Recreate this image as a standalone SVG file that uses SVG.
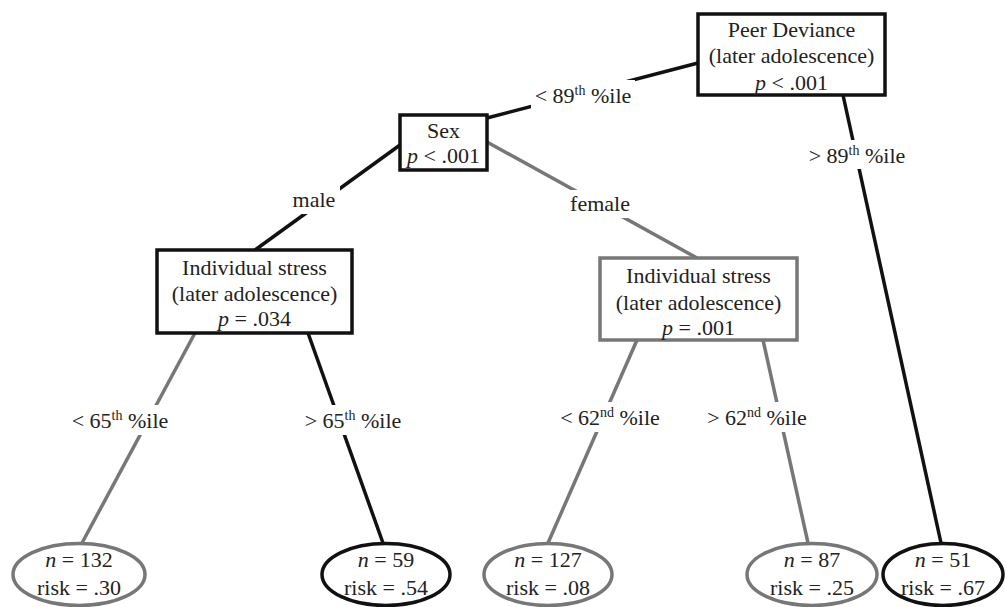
<svg xmlns="http://www.w3.org/2000/svg" width="1006" height="607" viewBox="0 0 1006 607">
<style>
text{font-family:"Liberation Serif","Times New Roman",serif;font-size:22px;fill:#222;text-anchor:middle}
.sup{font-size:14px}
.blk{stroke:#111;stroke-width:3.5;fill:none}
.gry{stroke:#777;stroke-width:3.5;fill:none}
.box{fill:#fff;stroke-width:3.5}
.lblbg{fill:#fff}
</style>
<rect width="1006" height="607" fill="#fff"/>
<g id="connectors">
<line class="blk" x1="698" y1="63" x2="487" y2="118"/>
<line class="blk" x1="843" y1="95" x2="941" y2="543"/>
<line class="blk" x1="400" y1="145" x2="255" y2="250"/>
<line class="gry" x1="487" y1="142" x2="697" y2="258"/>
<line class="gry" x1="195" y1="333" x2="82" y2="543"/>
<line class="blk" x1="308" y1="333" x2="383" y2="543"/>
<line class="gry" x1="637" y1="340" x2="548" y2="543"/>
<line class="gry" x1="763" y1="340" x2="808" y2="543"/>
<rect class="lblbg" x="531" y="80" width="104" height="29"/>
<text x="583" y="103">&lt; 89<tspan class="sup" dy="-8">th</tspan><tspan dy="8"> %ile</tspan></text>
<rect class="lblbg" x="805" y="140" width="104" height="29"/>
<text x="857" y="163">&gt; 89<tspan class="sup" dy="-8">th</tspan><tspan dy="8"> %ile</tspan></text>
<rect class="lblbg" x="288" y="186" width="52" height="28"/>
<text x="314" y="207">male</text>
<rect class="lblbg" x="565" y="190" width="70" height="28"/>
<text x="600" y="211">female</text>
<rect class="lblbg" x="68" y="405" width="104" height="30"/>
<text x="120" y="428">&lt; 65<tspan class="sup" dy="-8">th</tspan><tspan dy="8"> %ile</tspan></text>
<rect class="lblbg" x="301" y="405" width="104" height="30"/>
<text x="353" y="428">&gt; 65<tspan class="sup" dy="-8">th</tspan><tspan dy="8"> %ile</tspan></text>
<rect class="lblbg" x="556" y="402" width="108" height="30"/>
<text x="610" y="425">&lt; 62<tspan class="sup" dy="-8">nd</tspan><tspan dy="8"> %ile</tspan></text>
<rect class="lblbg" x="703" y="402" width="108" height="30"/>
<text x="757" y="425">&gt; 62<tspan class="sup" dy="-8">nd</tspan><tspan dy="8"> %ile</tspan></text>
</g>
<g id="peer">
<rect class="box" x="698" y="14" width="187" height="81" stroke="#111"/>
<text x="791.5" y="37">Peer Deviance</text>
<text x="791.5" y="63">(later adolescence)</text>
<text x="791.5" y="90"><tspan font-style="italic">p</tspan> &lt; .001</text>
</g>
<g id="sex">
<rect class="box" x="400" y="115" width="87" height="55" stroke="#111"/>
<text x="443.5" y="138">Sex</text>
<text x="443.5" y="163"><tspan font-style="italic">p</tspan> &lt; .001</text>
</g>
<g id="stress-male">
<rect class="box" x="157" y="250" width="195" height="83" stroke="#111"/>
<text x="254.5" y="275">Individual stress</text>
<text x="254.5" y="301">(later adolescence)</text>
<text x="254.5" y="326"><tspan font-style="italic">p</tspan> = .034</text>
</g>
<g id="stress-female">
<rect class="box" x="600" y="258" width="197" height="82" stroke="#777"/>
<text x="698.5" y="283">Individual stress</text>
<text x="698.5" y="310">(later adolescence)</text>
<text x="698.5" y="335"><tspan font-style="italic">p</tspan> = .001</text>
</g>
<g id="leaf-132">
<ellipse cx="79" cy="574.5" rx="66" ry="31" fill="#fff" stroke="#777" stroke-width="3.5"/>
<text x="79" y="567"><tspan font-style="italic">n</tspan> = 132</text>
<text x="79" y="595">risk = .30</text>
</g>
<g id="leaf-59">
<ellipse cx="386" cy="574.5" rx="64" ry="31" fill="#fff" stroke="#111" stroke-width="3.5"/>
<text x="386" y="567"><tspan font-style="italic">n</tspan> = 59</text>
<text x="386" y="595">risk = .54</text>
</g>
<g id="leaf-127">
<ellipse cx="548" cy="574.5" rx="64" ry="31" fill="#fff" stroke="#777" stroke-width="3.5"/>
<text x="548" y="567"><tspan font-style="italic">n</tspan> = 127</text>
<text x="548" y="595">risk = .08</text>
</g>
<g id="leaf-87">
<ellipse cx="812" cy="574.5" rx="65" ry="31" fill="#fff" stroke="#777" stroke-width="3.5"/>
<text x="812" y="567"><tspan font-style="italic">n</tspan> = 87</text>
<text x="812" y="595">risk = .25</text>
</g>
<g id="leaf-51">
<ellipse cx="943" cy="574.5" rx="60" ry="31" fill="#fff" stroke="#111" stroke-width="3.5"/>
<text x="943" y="567"><tspan font-style="italic">n</tspan> = 51</text>
<text x="943" y="595">risk = .67</text>
</g>
</svg>
